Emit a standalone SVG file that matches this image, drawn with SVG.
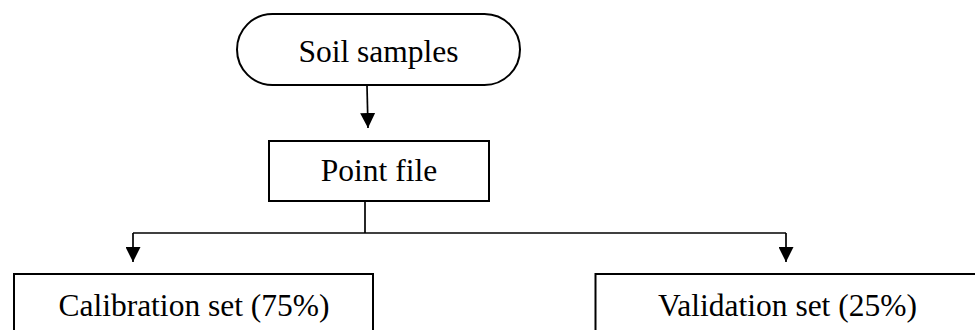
<svg xmlns="http://www.w3.org/2000/svg" width="975" height="330" viewBox="0 0 975 330">
<style>
.box{fill:#fff;stroke:#000;stroke-width:2}
.lbl{font-family:"Liberation Serif","Times New Roman",serif;font-size:31.5px;fill:#000;text-anchor:middle}
.con{fill:none;stroke:#000;stroke-width:1.7}
</style>
<defs>
<marker id="ah" viewBox="0 0 10 10" refX="10" refY="5" markerWidth="15" markerHeight="15" markerUnits="userSpaceOnUse" orient="auto">
<path d="M0,0 L10,5 L0,10 Z" fill="#000"/>
</marker>
</defs>
<rect width="975" height="330" fill="#fff"/>
<g id="connectors">
<path class="con" d="M367,86 L368,128" marker-end="url(#ah)"/>
<path class="con" d="M365,201 L365,233"/>
<path class="con" d="M133,233 L786,233"/>
<path class="con" d="M133,233 L133,262" marker-end="url(#ah)"/>
<path class="con" d="M786,233 L786,262" marker-end="url(#ah)"/>
</g>
<g id="soil-samples">
<rect class="box" x="237" y="14" width="283" height="71" rx="35.5" ry="35.5"/>
<text class="lbl" x="378.5" y="62">Soil samples</text>
</g>
<g id="point-file">
<rect class="box" x="269" y="141" width="220" height="60"/>
<text class="lbl" x="379" y="181">Point file</text>
</g>
<g id="calibration-set">
<rect class="box" x="14" y="274" width="359" height="80"/>
<text class="lbl" x="194" y="316">Calibration set (75%)</text>
</g>
<g id="validation-set">
<rect class="box" x="595.5" y="274" width="384" height="80"/>
<text class="lbl" x="787.5" y="316">Validation set (25%)</text>
</g>
</svg>
